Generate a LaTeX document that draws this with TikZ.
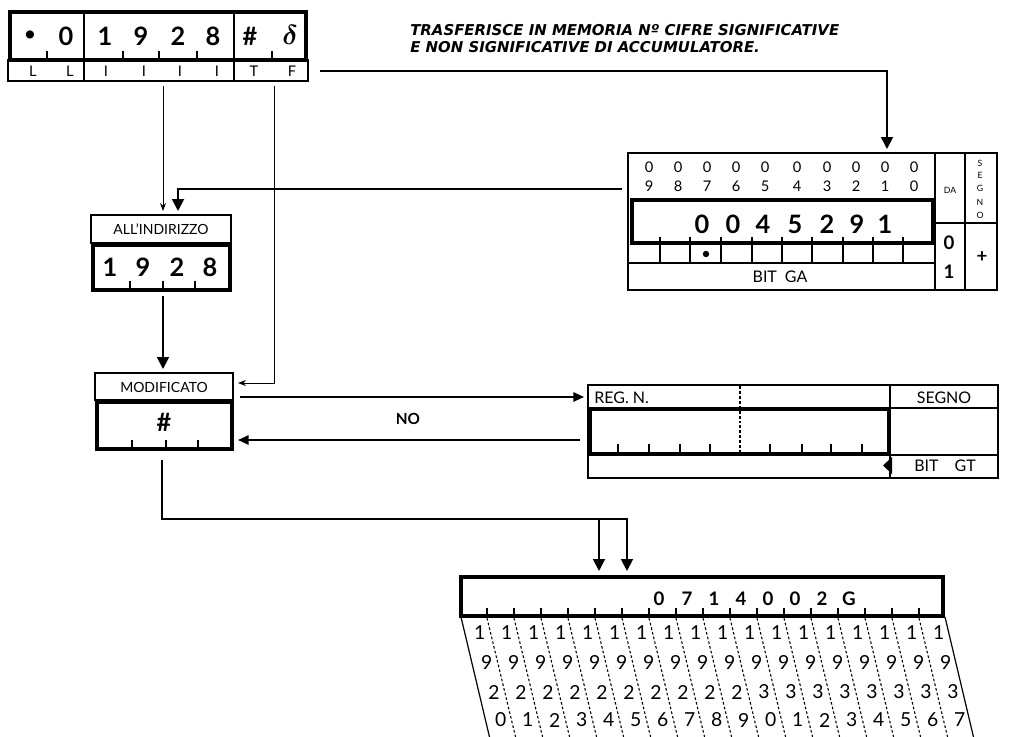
\documentclass[tikz,border=0pt]{standalone}
\usepackage{fontspec}
\setmainfont{Lato}
\newfontfamily\notefont{DejaVu Sans}
\usetikzlibrary{arrows.meta}
\begin{document}
\begin{tikzpicture}[x=0.75pt,y=-0.75pt,
  thinbox/.style={draw, line width=0.9pt},
  regbox/.style={draw, line width=2.6pt},
  tickline/.style={line width=0.9pt},
  conn/.style={line width=1.4pt},
  thinconn/.style={line width=0.7pt},
  bigtip/.style={-{Triangle[width=9pt,length=9pt]}},
  midtip/.style={-{Triangle[width=7pt,length=8pt]}},
  smalltip/.style={-{Stealth[width=4.5pt,length=6pt]}},
  txt/.style={inner sep=0pt, anchor=center},
  dbig/.style={txt, font=\fontsize{19}{19}\selectfont\bfseries},
  dmid/.style={txt, font=\fontsize{14}{14}\selectfont\bfseries},
  lab/.style={txt, font=\fontsize{12}{12}\selectfont},
  hdr/.style={txt, font=\fontsize{10.5}{11}\selectfont},
  sml/.style={txt, font=\fontsize{11}{11}\selectfont},
  tinylab/.style={txt, font=\fontsize{6.5}{6.5}\selectfont},
  slant/.style={txt, font=\fontsize{14.5}{14.5}\selectfont},
  note/.style={inner sep=0pt, anchor=west, font=\notefont\fontsize{11.2}{11.5}\selectfont\bfseries\itshape}
]
\useasboundingbox (0,0) rectangle (1032,736);
\fill[white] (0,0) rectangle (1032,736);

% ---------------- instruction box (top left)
\draw[regbox, line width=3.2pt] (10,12) rectangle (306,60);
\draw[thinbox] (8,60) rectangle (308,81);
\draw[line width=1pt] (84,12) -- (84,81) (234,12) -- (234,81);
\foreach \x in {47,123,159,197,272} \draw[tickline] (\x,59) -- (\x,51);
\node[txt, font=\fontsize{14}{14}\selectfont\bfseries] (ia) at (30,36) {•};
\node[dbig] (ib) at (66,36) {0};
\node[dbig] (ic) at (105,36) {1};
\node[dbig] (id) at (141,36) {9};
\node[dbig] (ie) at (178,36) {2};
\node[dbig] (if) at (213,36) {8};
\node[dbig] (ig) at (250,36) {\#};
\node[txt, font=\fontsize{22}{22}\selectfont\boldmath] (ih) at (290,35) {$\delta$};
\foreach \x/\t [count=\n] in {33/L,70/L,106/I,144/I,180/I,217/I,254/T,292/F}
  \node[sml] (il\n) at (\x,71) {\t};

\node[note] (noteA) at (410,30) {TRASFERISCE IN MEMORIA Nº CIFRE SIGNIFICATIVE};
\node[note] (noteB) at (410,47) {E NON SIGNIFICATIVE DI ACCUMULATORE.};

% ---------------- accumulator box
\draw[thinbox] (628,153) rectangle (997,290);
\draw[thinbox] (935,153) -- (935,290) (965,153) -- (965,290) (935,223) -- (997,223);
\draw[thinbox] (628,263) -- (935,263);
\foreach \x in {660,690,721,752,782,812,843,873,903} \draw[tickline] (\x,237) -- (\x,263);
\draw[regbox] (632,200) rectangle (933,243);
\fill (706,254) circle (3.2);
\foreach \x/\d [count=\n] in {649/9,678/8,707/7,736/6,765/5,797/4,827/3,856/2,885/1,914/0} {
  \node[sml] (az\n) at (\x,167) {0};
  \node[sml] (ad\n) at (\x,186) {\d};
}
\foreach \x/\d [count=\n] in {702/0,733/0,763/4,795/5,827/2,857/9,885/1}
  \node[dbig] (av\n) at (\x,224) {\d};
\node[lab] (bitga) at (780,277) {BIT\enspace GA};
\node[tinylab] (da) at (950,190) {DA};
\foreach \y/\c [count=\n] in {163/S,175/E,188/G,202/N,215/O}
  \node[tinylab] (sg\n) at (980,\y) {\c};
\node[dmid] (da0) at (949,243) {0};
\node[dmid] (da1) at (949,272) {1};
\node[dmid] (plus) at (982,257) {+};

% ---------------- ALL'INDIRIZZO
\draw[thinbox] (91,215) rectangle (231,243);
\draw[regbox] (93,245) rectangle (230,290);
\node[hdr] (allind) at (161,229) {ALL'INDIRIZZO};
\foreach \x/\d [count=\n] in {110/1,143/9,177/2,210/8}
  \node[dbig] (aid\n) at (\x,267) {\d};
\foreach \x in {130,163,195} \draw[tickline] (\x,289) -- (\x,281);

% ---------------- MODIFICATO
\draw[thinbox] (95,373) rectangle (233,400);
\draw[regbox] (97,402) rectangle (232,449);
\node[hdr] (modif) at (164,387) {MODIFICATO};
\node[dbig] (hash) at (164,422) {\#};
\foreach \x in {132,166,198} \draw[tickline] (\x,448) -- (\x,440);
\node[txt, font=\fontsize{11.5}{11.5}\selectfont\bfseries] (no) at (408,419) {NO};

% ---------------- REG. N.
\draw[thinbox] (588,385) rectangle (998,478);
\draw[thinbox] (890,385) -- (890,478) (588,408) -- (998,408) (890,455) -- (998,455);
\draw[regbox] (590,409) rectangle (889,454);
\draw[line width=0.9pt, dash pattern=on 2.2pt off 1.5pt] (740,386) -- (740,452);
\foreach \x in {618,649,680,710,770,802,831,862} \draw[tickline] (\x,452) -- (\x,444);
\fill (892,457) -- (883,465.5) -- (892,474) -- cycle;
\node[lab, anchor=west] (regn) at (594,398) {REG.\ N.};
\node[lab] (segno) at (944,398) {SEGNO};
\node[lab] (bitgt) at (945,466) {BIT\quad GT};

% ---------------- memory (bottom)
\draw[regbox] (461,577) rectangle (943,616);
\foreach \k in {0,...,16} {
  \pgfmathsetmacro{\tx}{487+27*\k}
  \draw[tickline] (\tx,616) -- (\tx,608);
  \draw[line width=0.8pt, dash pattern=on 2pt off 1.6pt] (\tx,618) -- ({\tx+0.24*119},737);
}
\draw[thinbox] (461,617) -- (489.5,737);
\draw[thinbox] (945,617) -- (973.5,737);
\foreach \x/\d [count=\n] in {659/0,687/7,714/1,741/4,768/0,795/0,822/2,849/G}
  \node[dmid] (mv\n) at (\x,599) {\d};
\foreach \i in {0,...,17} {
  \pgfmathtruncatemacro{\third}{\i<10 ? 2 : 3}
  \pgfmathtruncatemacro{\fourth}{mod(\i,10)}
  \foreach \y/\d [count=\r] in {633/1,662/9,692/\third,720/\fourth} {
    \pgfmathsetmacro{\px}{476+27*\i+0.24*(\y-617)}
    \node[slant] (m\i r\r) at (\px,\y) {\d};
  }
}

% ---------------- connector end points
\coordinate (iR) at (320,71);
\coordinate (accTop) at (887,149);
\coordinate (iA) at (163,86);
\coordinate (aiTopA) at (163,211);
\coordinate (iB) at (274,86);
\coordinate (modR) at (238,383);
\coordinate (accL) at (622,189);
\coordinate (aiTopB) at (178,211);
\coordinate (aiBot) at (163,296);
\coordinate (modTop) at (163,369);
\coordinate (modOut) at (240,397);
\coordinate (regIn) at (584,397);
\coordinate (regOut) at (580,440);
\coordinate (modIn) at (238,440);
\coordinate (modBot) at (162,460);
\coordinate (memA) at (599,571);
\coordinate (memB) at (627,571);
\coordinate (split) at (599,519);

% ---------------- connectors
\draw[conn, bigtip] (iR) -| (accTop);
\draw[thinconn, smalltip] (iA) -- (aiTopA);
\draw[thinconn, smalltip] (iB) |- (modR);
\draw[conn, bigtip] (accL) -| (aiTopB);
\draw[conn, bigtip] (aiBot) -- (modTop);
\draw[conn, midtip] (modOut) -- (regIn);
\draw[conn, midtip] (regOut) -- (modIn);
\draw[conn, bigtip] (modBot) |- (627,519) -- (memB);
\draw[conn, bigtip] (split) -- (memA);
\end{tikzpicture}
\end{document}
